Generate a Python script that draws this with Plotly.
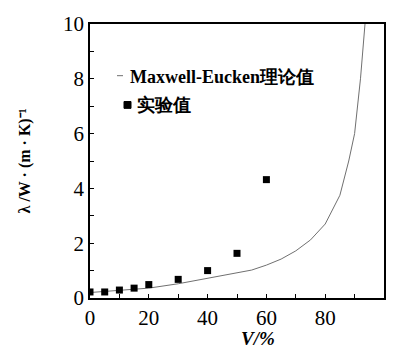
import plotly.graph_objects as go

# Maxwell-Eucken theoretical curve (volume fraction %, conductivity)
me_v = [0, 10, 20, 30, 40, 50, 55, 60, 65, 70, 75, 80, 85, 88, 90, 92, 93.3, 94]
me_lambda = [0.2, 0.27, 0.36, 0.52, 0.72, 0.92, 1.02, 1.2, 1.42, 1.72, 2.12,
             2.7, 3.75, 5.0, 6.0, 8.0, 9.9, 10.6]

# measured values
exp_v = [0, 5, 10, 15, 20, 30, 40, 50, 60]
exp_lambda = [0.22, 0.22, 0.29, 0.36, 0.49, 0.68, 1.0, 1.63, 4.32]

W, H = 398, 350
L, R, T, B = 90, 14, 17, 52
PW, PH = W - L - R, H - T - B

SERIF = "Liberation Serif"


def px(x):
    return (x - L) / PW


def py(y):
    return (H - B - y) / PH


fig = go.Figure()
fig.add_trace(go.Scatter(x=me_v, y=me_lambda, mode="lines",
                         line=dict(color="#707070", width=1), showlegend=False))
fig.add_trace(go.Scatter(x=exp_v, y=exp_lambda, mode="markers",
                         marker=dict(symbol="square", size=7, color="black"),
                         showlegend=False))

fig.update_xaxes(range=[0, 100], showline=True, mirror=True, linecolor="black",
                 linewidth=1.5, showgrid=False, zeroline=False,
                 dtick=20, ticks="inside", ticklen=4, tickcolor="black",
                 minor=dict(dtick=10, ticks="inside", ticklen=4, tickcolor="black"),
                 tickfont=dict(family=SERIF, size=21))
fig.update_yaxes(range=[0, 10], showline=True, mirror=True, linecolor="black",
                 linewidth=1.5, showgrid=False, zeroline=False,
                 dtick=2, ticks="inside", ticklen=4, tickcolor="black",
                 minor=dict(dtick=1, ticks="inside", ticklen=4, tickcolor="black"),
                 tickfont=dict(family=SERIF, size=21),
                 title=dict(text="λ /W · (m · K)⁻¹", standoff=28,
                            font=dict(family=SERIF, size=16, weight="bold")))

# legend drawn by hand
fig.add_shape(type="line", xref="paper", yref="paper",
              x0=px(117), x1=px(123), y0=py(70), y1=py(70),
              line=dict(color="#707070", width=1))
fig.add_annotation(xref="paper", yref="paper", x=px(128), y=py(71),
                   xanchor="left", yanchor="middle", showarrow=False,
                   text="Maxwell-Eucken理论值",
                   font=dict(family=SERIF, size=18, weight="bold"))
fig.add_shape(type="rect", xref="paper", yref="paper",
              x0=px(124), x1=px(131), y0=py(96.5), y1=py(103.5),
              fillcolor="black", line=dict(color="black", width=1))
fig.add_annotation(xref="paper", yref="paper", x=px(135), y=py(100),
                   xanchor="left", yanchor="middle", showarrow=False,
                   text="实验值", font=dict(family=SERIF, size=18, weight="bold"))

# x axis title
fig.add_annotation(xref="paper", yref="paper", x=px(258), y=py(340),
                   xanchor="center", yanchor="middle", showarrow=False,
                   text="V/%",
                   font=dict(family=SERIF, size=19, weight="bold", style="italic"))

fig.update_layout(width=W, height=H, margin=dict(l=L, r=R, t=T, b=B),
                  font=dict(color="black"),
                  paper_bgcolor="white", plot_bgcolor="white")
fig.write_html("out.html")
